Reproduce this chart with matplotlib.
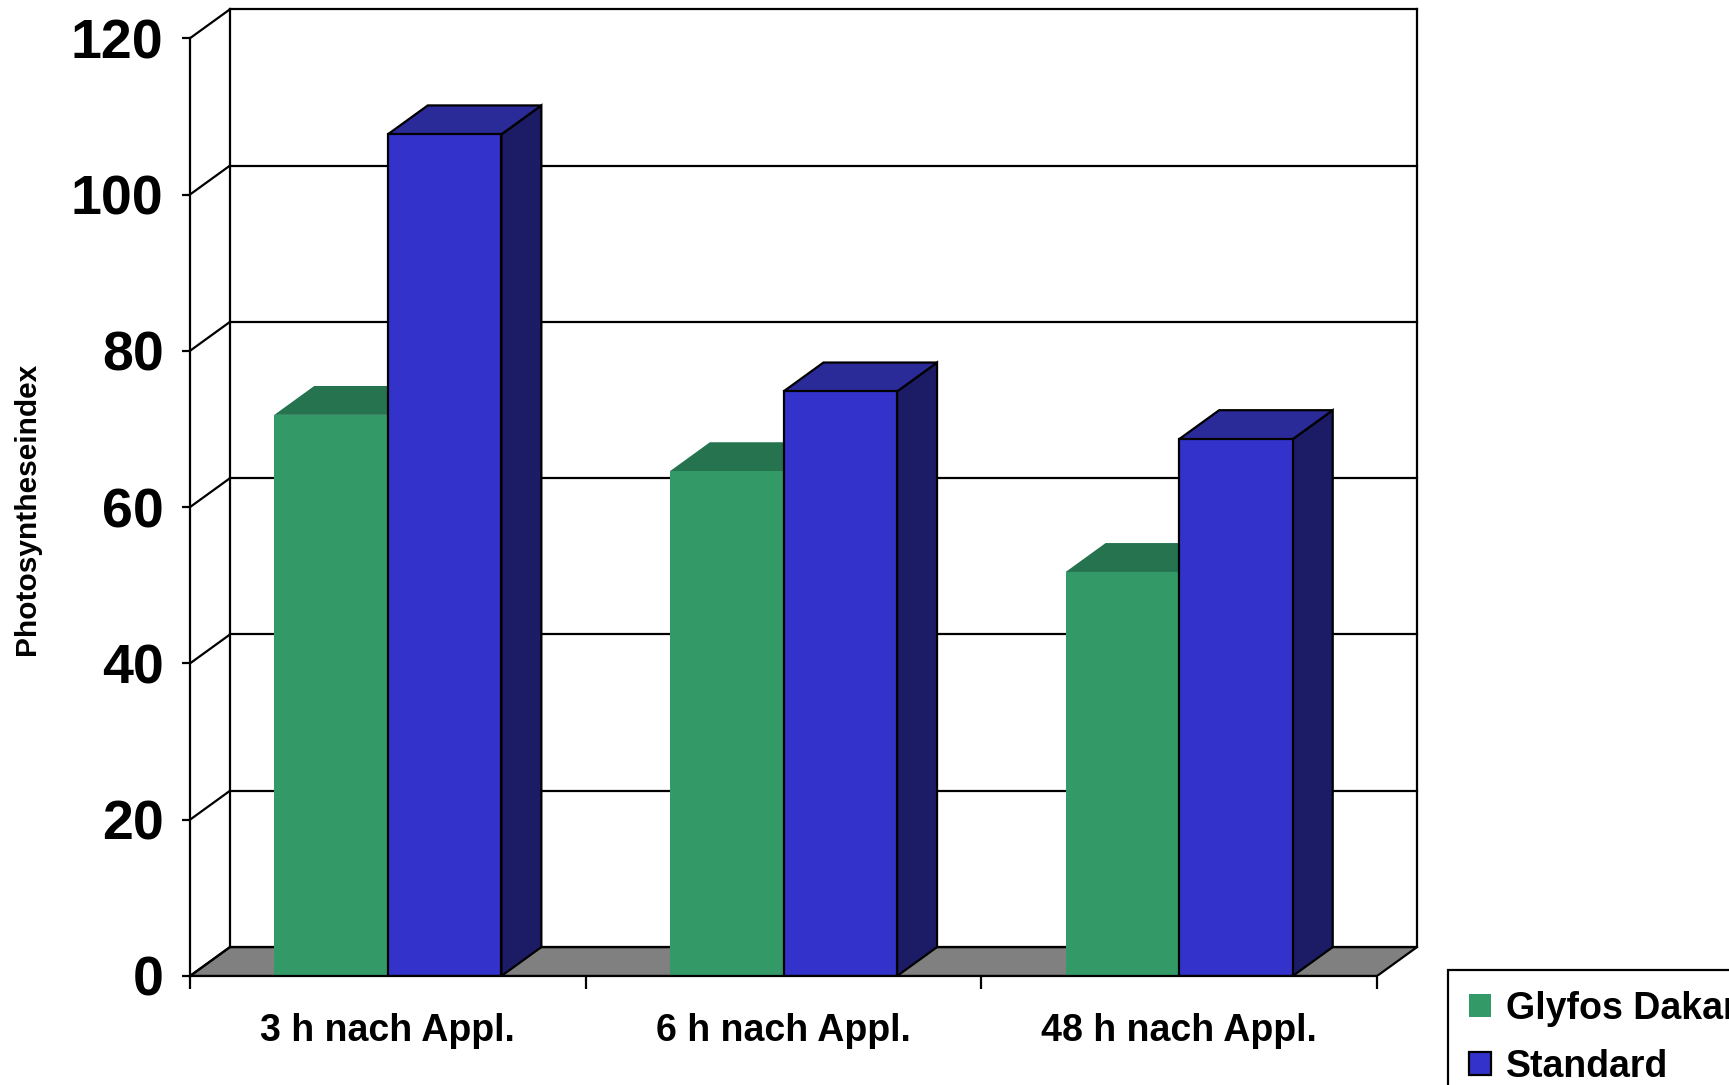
import matplotlib.pyplot as plt
from matplotlib.patches import Polygon, Patch

plt.rcParams['font.family'] = ['Liberation Sans', 'DejaVu Sans']
plt.rcParams['font.weight'] = 'bold'

# daten
categories = ['3 h nach Appl.', '6 h nach Appl.', '48 h nach Appl.']
series_names = ['Glyfos Dakar', 'Standard']
glyfos = [71.8, 64.6, 51.7]
standard = [107.7, 74.8, 68.7]
yticks = [0, 20, 40, 60, 80, 100, 120]

# farben
green_front, green_top = '#339966', '#267350'
blue_front, blue_top, blue_side = '#3333CC', '#2A2A99', '#1C1C66'

DX, DY = 0.101, 3.7   # tiefe der 3d-darstellung (daten-einheiten)
w = 0.287
lw = 1.6

fig = plt.figure(figsize=(17.29, 10.85), dpi=100)
ax = fig.add_axes([190 / 1729, 1 - 976 / 1085, (1417 - 190) / 1729, (976 - 9.3) / 1085])
ax.set_xlim(-0.5, 2.5 + DX)
ax.set_ylim(0, 120 + DY)
ax.patch.set_visible(False)

# boden
floor = Polygon([(-0.5, 0), (2.5, 0), (2.5 + DX, DY), (-0.5 + DX, DY)],
                closed=True, facecolor='#808080', edgecolor='black', lw=lw, zorder=1)
ax.add_patch(floor)

# rueckwand + gitter
x0b, x1b = -0.5 + DX, 2.5 + DX
for v in yticks:
    ax.plot([x0b, x1b], [v + DY, v + DY], color='black', lw=lw, zorder=1.5, clip_on=False)
    ax.plot([-0.5, x0b], [v, v + DY], color='black', lw=lw, zorder=1.5, clip_on=False)
ax.plot([x0b, x0b], [DY, 120 + DY], color='black', lw=lw, zorder=1.5, clip_on=False)
ax.plot([x1b, x1b], [DY, 120 + DY], color='black', lw=lw, zorder=1.5, clip_on=False)

def draw_bar(x_left, v, front, top, side, edge, z):
    x_right = x_left + w
    ec = 'black' if edge else 'none'
    ax.add_patch(Polygon([(x_right, 0), (x_right + DX, DY), (x_right + DX, v + DY), (x_right, v)],
                         closed=True, facecolor=side, edgecolor=ec, lw=lw, zorder=z))
    ax.add_patch(Polygon([(x_left, v), (x_right, v), (x_right + DX, v + DY), (x_left + DX, v + DY)],
                         closed=True, facecolor=top, edgecolor=ec, lw=lw, zorder=z))
    ax.bar(x_left, v, width=w, align='edge', color=front, edgecolor=ec, lw=lw, zorder=z + 0.1)

for i in range(len(categories)):
    draw_bar(i - w, glyfos[i], green_front, green_top, green_top, False, 3)
    draw_bar(i, standard[i], blue_front, blue_top, blue_side, True, 4)

# achsen
for s in ['top', 'right']:
    ax.spines[s].set_visible(False)
ax.spines['left'].set_bounds(0, 120)
ax.spines['bottom'].set_bounds(-0.5, 2.5)
ax.spines['left'].set_linewidth(lw)
ax.spines['bottom'].set_linewidth(lw)
ax.spines['left'].set_zorder(5)
ax.spines['bottom'].set_zorder(5)

ax.set_yticks(yticks)
ax.set_yticklabels([str(v) for v in yticks], fontsize=40, fontweight='bold')
ax.tick_params(axis='y', length=6, width=lw, pad=13)

ax.set_xticks([-0.5, 0.5, 1.5, 2.5])
ax.set_xticklabels([])
ax.set_xticks([0, 1, 2], minor=True)
ax.set_xticklabels(categories, minor=True, fontsize=27, fontweight='bold')
ax.tick_params(axis='x', which='major', length=9.5, width=lw)
ax.tick_params(axis='x', which='minor', length=0, pad=26.5)

fig.text(27.5 / 1729, 1 - 509 / 1085, 'Photosyntheseindex', rotation=90,
         ha='center', va='center', fontsize=21.5, fontweight='bold')

handles = [Patch(facecolor=green_front, edgecolor='none'),
           Patch(facecolor=blue_front, edgecolor='black', lw=lw)]
leg = fig.legend(handles, series_names, loc='upper left', bbox_to_anchor=(1448 / 1729, 1 - 970 / 1085),
                 borderaxespad=0, fancybox=False, edgecolor='black', framealpha=1,
                 prop={'weight': 'bold', 'size': 27}, handlelength=0.6, handleheight=0.6,
                 handletextpad=0.4, labelspacing=0.59, borderpad=0.55)
leg.get_frame().set_linewidth(lw)

fig.savefig('out.png', dpi=100)
